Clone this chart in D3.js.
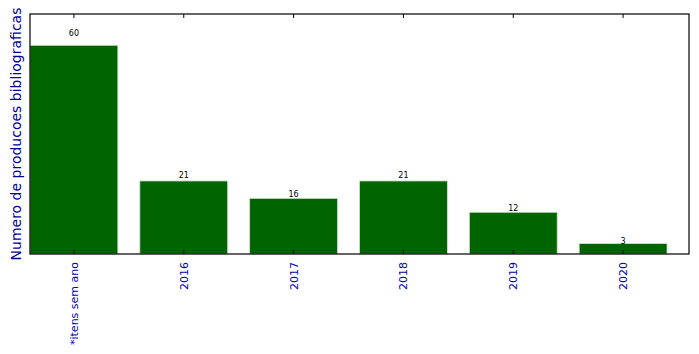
<!DOCTYPE html>
<html>
<head>
<meta charset="utf-8">
<script src="https://cdn.jsdelivr.net/npm/d3@7"></script>
<style>
  body { margin: 0; background: #fff; }
  text { font-family: "DejaVu Sans", sans-serif; }
</style>
</head>
<body>
<div id="chart"></div>
<script>
// data
var categories = ["*itens sem ano", "2016", "2017", "2018", "2019", "2020"]
var counts = [60, 21, 16, 21, 12, 3]
var yMax = 69

var margin = {top: 14, right: 10, bottom: 100, left: 30},
    width = 699 - margin.left - margin.right,
    height = 354 - margin.top - margin.bottom;

var x = d3.scaleBand()
    .domain(categories)
    .range([0, width])
    .paddingInner(0.2)
    .paddingOuter(0.1)
    .align(0);

var y = d3.scaleLinear()
    .domain([0, yMax])
    .range([height, 0]);

var svg = d3.select("#chart").append("svg")
    .attr("width", 699)
    .attr("height", 354)
  .append("g")
    .attr("transform", "translate(" + margin.left + "," + margin.top + ")");

// bars
svg.selectAll("rect.bar")
    .data(counts)
    .enter().append("rect")
    .attr("class", "bar")
    .attr("x", function(d, i) { return x(categories[i]); })
    .attr("y", function(d) { return y(d); })
    .attr("width", x.bandwidth())
    .attr("height", function(d) { return height - y(d); })
    .attr("fill", "#006400")
    .attr("stroke", "#cfe3cf")
    .attr("stroke-width", 0.8);

// value labels, a bit above each bar (5% of its value)
svg.selectAll("text.val")
    .data(counts)
    .enter().append("text")
    .attr("class", "val")
    .attr("x", function(d, i) { return x(categories[i]) + x.bandwidth() / 2; })
    .attr("y", function(d) { return y(d * 1.05) + 1; })
    .attr("text-anchor", "middle")
    .attr("font-size", 8)
    .attr("fill", "#000")
    .text(function(d) { return d; });

// ticks inside, bottom and top
var centers = categories.map(function(c) { return x(c) + x.bandwidth() / 2; });
svg.selectAll("line.tb")
    .data(centers)
    .enter().append("line")
    .attr("x1", function(d) { return d; })
    .attr("x2", function(d) { return d; })
    .attr("y1", height)
    .attr("y2", height - 4)
    .attr("stroke", "#000");
svg.selectAll("line.tt")
    .data(centers)
    .enter().append("line")
    .attr("x1", function(d) { return d; })
    .attr("x2", function(d) { return d; })
    .attr("y1", 0)
    .attr("y2", 4)
    .attr("stroke", "#000");

// frame
svg.append("rect")
    .attr("width", width)
    .attr("height", height)
    .attr("fill", "none")
    .attr("stroke", "#000")
    .attr("stroke-width", 1.2);

// x tick labels, rotated
svg.selectAll("text.cat")
    .data(categories)
    .enter().append("text")
    .attr("class", "cat")
    .attr("transform", function(d) {
        return "translate(" + (x(d) + x.bandwidth() / 2 + 4) + "," + (height + 8) + ") rotate(-90)"; })
    .attr("text-anchor", "end")
    .attr("font-size", 11)
    .attr("fill", "#0000aa")
    .text(function(d) { return d; });

// y label
svg.append("text")
    .attr("transform", "translate(" + (-9) + "," + (height / 2) + ") rotate(-90)")
    .attr("text-anchor", "middle")
    .attr("font-size", 14)
    .attr("fill", "#000099")
    .text("Numero de producoes bibliograficas");
</script>
</body>
</html>
